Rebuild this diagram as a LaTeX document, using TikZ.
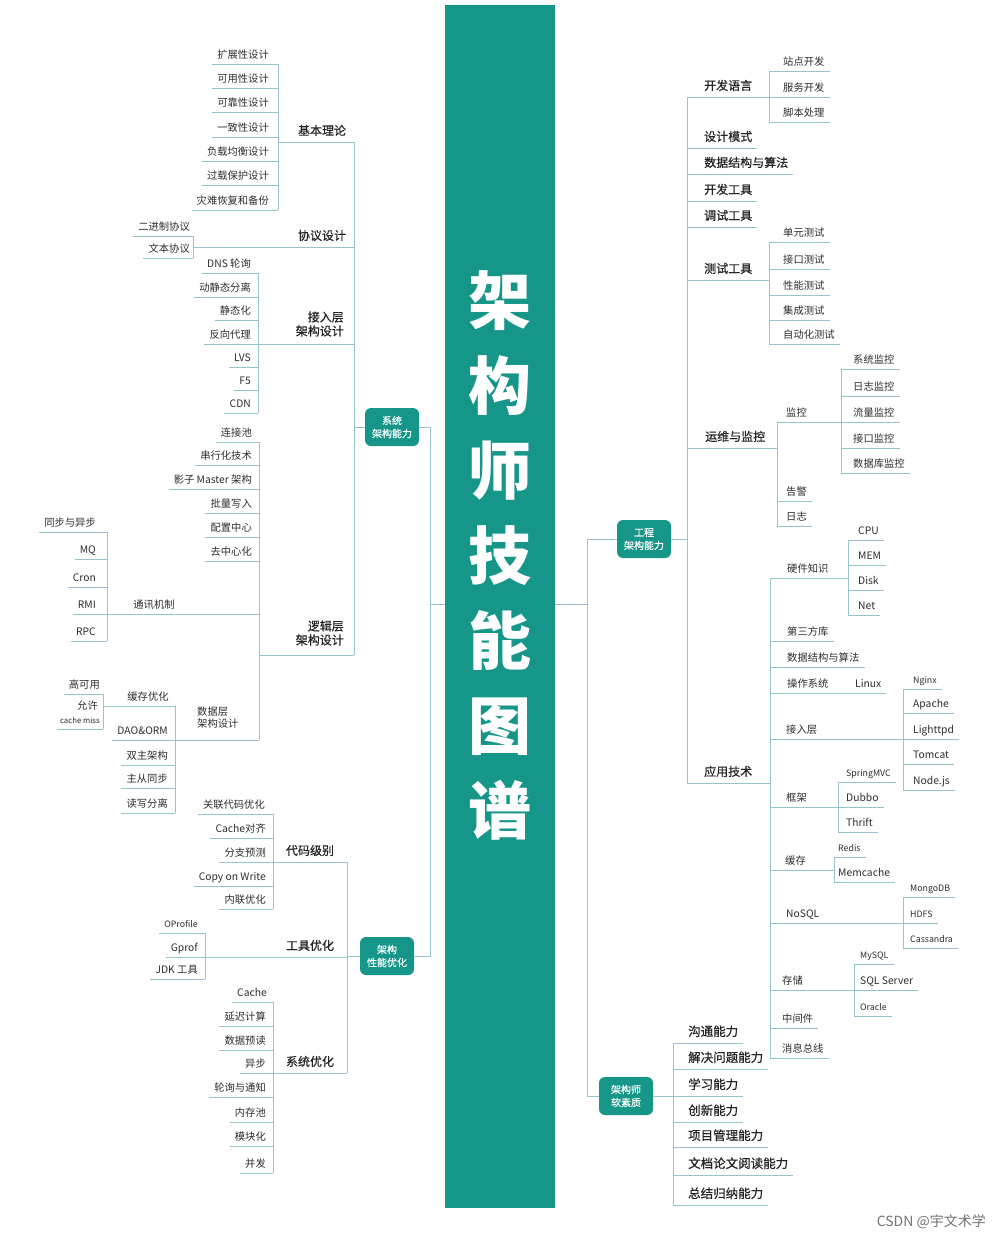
\documentclass[tikz,border=0pt]{standalone}
\usepackage{fontspec}
\newfontfamily\cjk{Noto Sans CJK SC}
\newfontfamily\cjkm[FakeBold=0.5]{Noto Sans CJK SC}
\definecolor{teal1}{RGB}{22,150,137}
\definecolor{lineC}{RGB}{150,196,202}
\definecolor{txt}{RGB}{45,45,45}
\tikzset{
 conn/.style={draw=lineC, line width=0.9pt},
 lf/.style={font=\cjk\fontsize{10.3}{12}\selectfont, text=txt, inner sep=0pt},
 lfs/.style={font=\cjk\fontsize{8.8}{10}\selectfont, text=txt, inner sep=0pt},
 br/.style={font=\cjkm\fontsize{12}{14}\selectfont, text=txt!80!black, inner sep=0pt},
 sk/.style={font=\cjkm\fontsize{12.5}{15}\selectfont, text=txt!80!black, inner sep=0pt},
 hub/.style={fill=teal1, rounded corners=6pt, text=white, font=\cjkm\fontsize{10}{13}\selectfont, minimum width=54pt, minimum height=38pt, align=center, inner sep=1pt},
 lpad/.style={xshift=-#1pt, yshift=6pt},
 rpad/.style={xshift=#1pt, yshift=6pt},
}
\newcommand\lleaf[5]{%
  \coordinate (#1R) at (#2,#3);
  \node[anchor=base east,#4] (#1) at (#1R) {#5};
  \path (#1.west |- #1R) ++(-5pt,0) coordinate (#1L);
  \draw[conn] (#1L) -- (#1R);}
\newcommand\rleaf[5]{%
  \coordinate (#1L) at (#2,#3);
  \node[anchor=base west,#4] (#1) at (#1L) {#5};
  \path (#1.east |- #1L) ++(5pt,0) coordinate (#1R);
  \draw[conn] (#1L) -- (#1R);}
\newcommand\seg[7]{%
  \coordinate (#1L) at (#2,#4);
  \coordinate (#1R) at (#3,#4);
  \node[#5] (#1) at (#6) {#7};
  \draw[conn] (#1L) -- (#1R);}
\begin{document}
\begin{tikzpicture}[x=1pt,y=-1pt]
\fill[white] (0,0) rectangle (1000,1240);
\useasboundingbox (0,0) rectangle (1000,1240);
% central band
\node[fill=teal1, minimum width=110pt, minimum height=1203pt, inner sep=0pt, anchor=north west] (band) at (445,5) {};
\node[font=\cjk\bfseries\fontsize{63}{85}\selectfont, text=white, align=center, inner sep=0pt] (title) at (500,555) {架\\构\\师\\技\\能\\图\\谱};

% ===== LEFT: 系统架构能力 =====
\lleaf{a1}{278}{64}{lf,lpad=9}{扩展性设计}
\lleaf{a2}{278}{88}{lf,lpad=9}{可用性设计}
\lleaf{a3}{278}{112}{lf,lpad=9}{可靠性设计}
\lleaf{a4}{278}{137}{lf,lpad=9}{一致性设计}
\lleaf{a5}{278}{161}{lf,lpad=9}{负载均衡设计}
\lleaf{a6}{278}{185}{lf,lpad=9}{过载保护设计}
\lleaf{a7}{278}{210}{lf,lpad=9}{灾难恢复和备份}
\draw[conn] (a1R) -- (a7R);
\seg{jbll}{278}{354}{142}{br,anchor=base}{322,135}{基本理论}

\lleaf{b1}{193}{236}{lf,lpad=3}{二进制协议}
\lleaf{b2}{193}{258}{lf,lpad=3}{文本协议}
\draw[conn] (b1R) -- (b2R);
\seg{xysj}{193}{354}{247}{br,anchor=base}{322,240}{协议设计}

\lleaf{c1}{258}{273}{lf,lpad=7}{DNS 轮询}
\lleaf{c2}{258}{297}{lf,lpad=7}{动静态分离}
\lleaf{c3}{258}{320}{lf,lpad=7}{静态化}
\lleaf{c4}{258}{344}{lf,lpad=7}{反向代理}
\lleaf{c5}{258}{367}{lf,lpad=7}{LVS}
\lleaf{c6}{258}{390}{lf,lpad=7}{F5}
\lleaf{c7}{258}{413}{lf,lpad=7}{CDN}
\draw[conn] (c1R) -- (c7R);
\seg{jrc}{258}{354}{344}{br,anchor=east,align=right}{344,324}{接入层\\架构设计}

\lleaf{d1}{259}{442}{lf,lpad=7}{连接池}
\lleaf{d2}{259}{465}{lf,lpad=7}{串行化技术}
\lleaf{d3}{259}{489}{lf,lpad=7}{影子 Master 架构}
\lleaf{d4}{259}{513}{lf,lpad=7}{批量写入}
\lleaf{d5}{259}{537}{lf,lpad=7}{配置中心}
\lleaf{d6}{259}{561}{lf,lpad=7}{去中心化}
\seg{txjz}{107}{259}{614}{lf,anchor=base}{154,608}{通讯机制}
\lleaf{e1}{107}{532}{lf,lpad=11}{同步与异步}
\lleaf{e2}{107}{559}{lf,lpad=11}{MQ}
\lleaf{e3}{107}{587}{lf,lpad=11}{Cron}
\lleaf{e4}{107}{614}{lf,lpad=11}{RMI}
\lleaf{e5}{107}{641}{lf,lpad=11}{RPC}
\draw[conn] (e1R) -- (e5R);
\seg{ljc}{259}{354}{655}{br,anchor=east,align=right}{344,633}{逻辑层\\架构设计}

\seg{sjc}{175}{259}{740}{lf,anchor=west,align=left}{197,718}{数据层\\架构设计}
\draw[conn] (d1R) -- (sjcR);
\seg{hcyh}{103}{175}{706}{lf,anchor=base}{148,700}{缓存优化}
\lleaf{f1}{103}{694}{lf,lpad=3}{高可用}
\coordinate (f2R) at (103,729);
\node[lf,anchor=base east] (f2) at (98,709) {允许};
\node[lf,font=\cjk\fontsize{7.8}{9}\selectfont,anchor=base east] (f2b) at (100,723) {cache miss};
\path (f2b.west |- f2R) ++(-3pt,0) coordinate (f2L);
\draw[conn] (f2L) -- (f2R);
\draw[conn] (f1R) -- (f2R);
\lleaf{g2}{175}{740}{lf,lpad=7}{DAO\&ORM}
\lleaf{g3}{175}{765}{lf,lpad=7}{双主架构}
\lleaf{g4}{175}{788}{lf,lpad=7}{主从同步}
\lleaf{g5}{175}{813}{lf,lpad=7}{读写分离}
\draw[conn] (hcyhR) -- (g5R);

\draw[conn] (jbllR) -- (ljcR);
\node[hub] (sys) at (392,427) {系统\\架构能力};
\draw[conn] (sys.west) -- (sys.west -| jbllR);

% ===== LEFT: 架构性能优化 =====
\node[hub] (perf) at (387,956) {架构\\性能优化};
\lleaf{h1}{273}{814}{lf,lpad=8}{关联代码优化}
\lleaf{h2}{273}{838}{lf,lpad=7}{Cache对齐}
\lleaf{h3}{273}{862}{lf,lpad=7}{分支预测}
\lleaf{h4}{273}{886}{lf,lpad=7}{Copy on Write}
\lleaf{h5}{273}{909}{lf,lpad=7}{内联优化}
\draw[conn] (h1R) -- (h5R);
\seg{dmjb}{273}{347}{862}{br,anchor=base}{310,855}{代码级别}
\lleaf{i1}{205}{933}{lfs,lpad=7}{OProfile}
\lleaf{i2}{205}{957}{lf,lpad=7}{Gprof}
\lleaf{i3}{205}{979}{lf,lpad=7}{JDK 工具}
\draw[conn] (i1R) -- (i3R);
\seg{gjyh}{205}{347}{957}{br,anchor=base}{310,950}{工具优化}
\lleaf{j1}{273}{1002}{lf,lpad=6}{Cache}
\lleaf{j2}{273}{1026}{lf,lpad=7}{延迟计算}
\lleaf{j3}{273}{1050}{lf,lpad=7}{数据预读}
\lleaf{j4}{273}{1073}{lf,lpad=7}{异步}
\lleaf{j5}{273}{1097}{lf,lpad=7}{轮询与通知}
\lleaf{j6}{273}{1122}{lf,lpad=7}{内存池}
\lleaf{j7}{273}{1146}{lf,lpad=7}{模块化}
\lleaf{j8}{273}{1173}{lf,lpad=7}{并发}
\draw[conn] (j1R) -- (j8R);
\seg{xtyh}{273}{347}{1073}{br,anchor=base}{310,1066}{系统优化}
\draw[conn] (dmjbR) -- (xtyhR);
\draw[conn] (perf.west) -- (perf.west -| gjyhR);

\coordinate (LT) at (430,604);
\draw[conn] (sys.east) -- (sys.east -| LT) -- (perf.east -| LT) -- (perf.east);
\draw[conn] (LT) -- (LT -| band.west);

% ===== RIGHT: 工程架构能力 =====
\node[hub] (eng) at (644,539) {工程\\架构能力};
\node[hub] (soft) at (626,1096) {架构师\\软素质};
\coordinate (RT) at (587,604);
\draw[conn] (RT -| band.east) -- (RT);
\draw[conn] (eng.west) -- (eng.west -| RT) -- (soft.west -| RT) -- (soft.west);

\seg{kfyy}{687}{769}{97}{br,anchor=base west}{704,90}{开发语言}
\rleaf{k1}{769}{71}{lf,rpad=14}{站点开发}
\rleaf{k2}{769}{97}{lf,rpad=14}{服务开发}
\rleaf{k3}{769}{122}{lf,rpad=14}{脚本处理}
\draw[conn] (k1L) -- (k3L);
\rleaf{sjms}{687}{148}{br,rpad=17,yshift=1pt}{设计模式}
\rleaf{sjjg}{687}{174}{br,rpad=17,yshift=1pt}{数据结构与算法}
\rleaf{kfgj}{687}{201}{br,rpad=17,yshift=1pt}{开发工具}
\rleaf{tsgj}{687}{227}{br,rpad=17,yshift=1pt}{调试工具}
\seg{csgj}{687}{769}{280}{br,anchor=base west}{704,273}{测试工具}
\rleaf{m1}{769}{242}{lf,rpad=14}{单元测试}
\rleaf{m2}{769}{269}{lf,rpad=14}{接口测试}
\rleaf{m3}{769}{295}{lf,rpad=14}{性能测试}
\rleaf{m4}{769}{320}{lf,rpad=14}{集成测试}
\rleaf{m5}{769}{344}{lf,rpad=14}{自动化测试}
\draw[conn] (m1L) -- (m5L);
\seg{ywjk}{687}{777}{448}{br,anchor=base west}{705,441}{运维与监控}
\seg{jk}{777}{841}{422}{lf,anchor=base west}{786,416}{监控}
\rleaf{n1}{841}{369}{lf,rpad=12}{系统监控}
\rleaf{n2}{841}{396}{lf,rpad=12}{日志监控}
\rleaf{n3}{841}{422}{lf,rpad=12}{流量监控}
\rleaf{n4}{841}{448}{lf,rpad=12}{接口监控}
\rleaf{n5}{841}{473}{lf,rpad=12}{数据库监控}
\draw[conn] (n1L) -- (n5L);
\rleaf{gj}{777}{501}{lf,rpad=9}{告警}
\rleaf{rz}{777}{526}{lf,rpad=9}{日志}
\draw[conn] (jkL) -- (rzL);

\seg{yyjs}{687}{770}{783}{br,anchor=base west}{704,776}{应用技术}
\seg{yjzs}{770}{848}{578}{lf,anchor=base west}{787,572}{硬件知识}
\rleaf{p1}{848}{540}{lf,rpad=10}{CPU}
\rleaf{p2}{848}{565}{lf,rpad=10}{MEM}
\rleaf{p3}{848}{590}{lf,rpad=10}{Disk}
\rleaf{p4}{848}{615}{lf,rpad=10}{Net}
\draw[conn] (p1L) -- (p4L);
\rleaf{dsf}{770}{641}{lf,rpad=17}{第三方库}
\rleaf{sjjg2}{770}{667}{lf,rpad=17}{数据结构与算法}
\seg{czxt}{770}{850}{693}{lf,anchor=base west}{787,687}{操作系统}
\rleaf{linux}{850}{693}{lf,rpad=5}{Linux}
\seg{jrc2}{770}{903}{739}{lf,anchor=base west}{786,733}{接入层}
\rleaf{q1}{903}{689}{lfs,rpad=10}{Nginx}
\rleaf{q2}{903}{713}{lf,rpad=10}{Apache}
\rleaf{q3}{903}{739}{lf,rpad=10}{Lighttpd}
\rleaf{q4}{903}{764}{lf,rpad=10}{Tomcat}
\rleaf{q5}{903}{790}{lf,rpad=10}{Node.js}
\draw[conn] (q1L) -- (q5L);
\seg{kj}{770}{838}{807}{lf,anchor=base west}{786,801}{框架}
\rleaf{r1}{838}{782}{lfs,rpad=8}{SpringMVC}
\rleaf{r2}{838}{807}{lf,rpad=8}{Dubbo}
\rleaf{r3}{838}{832}{lf,rpad=8}{Thrift}
\draw[conn] (r1L) -- (r3L);
\seg{hc}{770}{834}{870}{lf,anchor=base west}{785,864}{缓存}
\rleaf{t1}{834}{857}{lfs,rpad=4}{Redis}
\rleaf{t2}{834}{882}{lf,rpad=4}{Memcache}
\draw[conn] (t1L) -- (t2L);
\seg{nosql}{770}{903}{923}{lf,anchor=base west}{786,917}{NoSQL}
\rleaf{u1}{903}{897}{lfs,rpad=7}{MongoDB}
\rleaf{u2}{903}{923}{lfs,rpad=7}{HDFS}
\rleaf{u3}{903}{948}{lfs,rpad=7}{Cassandra}
\draw[conn] (u1L) -- (u3L);
\seg{cc}{770}{854}{990}{lf,anchor=base west}{782,984}{存储}
\rleaf{v1}{854}{964}{lfs,rpad=6}{MySQL}
\rleaf{v2}{854}{990}{lf,rpad=6}{SQL Server}
\rleaf{v3}{854}{1016}{lfs,rpad=6}{Oracle}
\draw[conn] (v1L) -- (v3L);
\rleaf{zjj}{770}{1028}{lf,rpad=12}{中间件}
\rleaf{xxzx}{770}{1058}{lf,rpad=12}{消息总线}
\draw[conn] (yjzsL) -- (xxzxL);
\draw[conn] (kfyyL) -- (yyjsL);
\draw[conn] (eng.east) -- (eng.east -| kfyyL);

% ===== RIGHT: 架构师软素质 =====
\rleaf{s1}{673}{1043}{sk,rpad=15,yshift=1pt}{沟通能力}
\rleaf{s2}{673}{1069}{sk,rpad=15,yshift=1pt}{解决问题能力}
\rleaf{s3}{673}{1096}{sk,rpad=15,yshift=1pt}{学习能力}
\rleaf{s4}{673}{1122}{sk,rpad=15,yshift=1pt}{创新能力}
\rleaf{s5}{673}{1147}{sk,rpad=15,yshift=1pt}{项目管理能力}
\rleaf{s6}{673}{1175}{sk,rpad=15,yshift=1pt}{文档论文阅读能力}
\rleaf{s7}{673}{1205}{sk,rpad=15,yshift=1pt}{总结归纳能力}
\draw[conn] (s1L) -- (s7L);
\draw[conn] (soft.east) -- (soft.east -| s1L);

\node[font=\cjk\fontsize{14}{16}\selectfont, text=black!55, anchor=east, inner sep=0pt] (wm) at (986,1222) {CSDN @宇文术学};
\end{tikzpicture}
\end{document}
